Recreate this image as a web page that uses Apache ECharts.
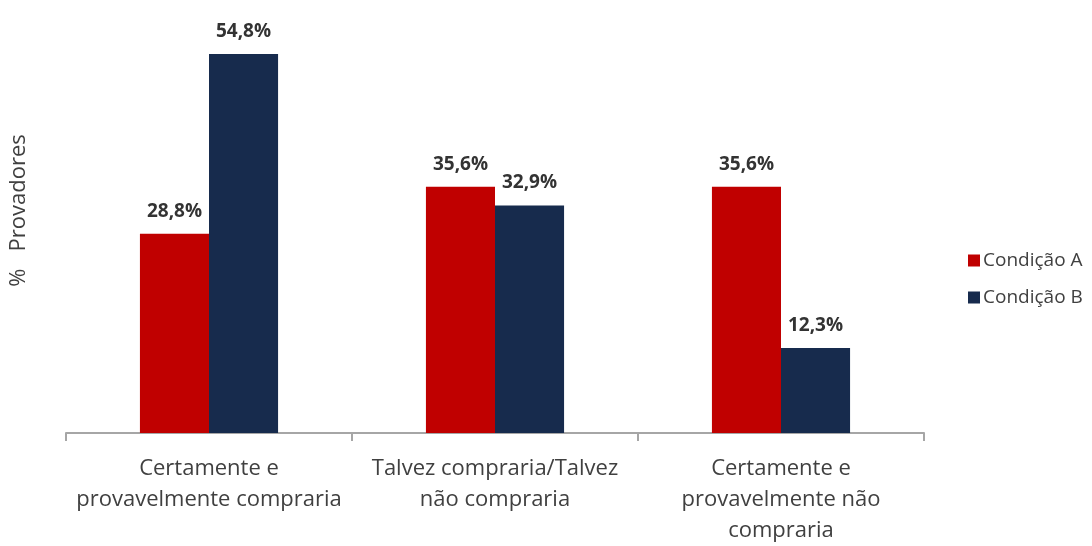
<!DOCTYPE html>
<html>
<head>
<meta charset="utf-8">
<script src="https://cdn.jsdelivr.net/npm/echarts@6/dist/echarts.min.js"></script>
<style>
  html, body { margin: 0; padding: 0; background: #ffffff; }
  #chart { width: 1092px; height: 546px; }
</style>
</head>
<body>
<div id="chart"></div>
<script>
// dados do gráfico
const categories = [
  'Certamente e\nprovavelmente compraria',
  'Talvez compraria/Talvez\nnão compraria',
  'Certamente e\nprovavelmente não\ncompraria'
];
const condicaoA = [28.8, 35.6, 35.6];
const condicaoB = [54.8, 32.9, 12.3];
const seriesNames = ['Condição A', 'Condição B'];

const fontFamily = '"Open Sans", "Liberation Sans", sans-serif';

function pct(p) {
  return p.value.toFixed(1).replace('.', ',') + '%';
}

const myChart = echarts.init(document.getElementById('chart'));
const option = {
  backgroundColor: '#ffffff',
  animation: false,
  textStyle: { fontFamily: fontFamily },
  grid: { left: 65, right: 168, top: 18, bottom: 112 },
  legend: {
    orient: 'vertical',
    left: 963,
    top: 246,
    itemWidth: 12,
    itemHeight: 12,
    itemGap: 18,
    itemStyle: { borderWidth: 0 },
    icon: 'rect',
    textStyle: { color: '#404040', fontSize: 19, fontFamily: fontFamily, padding: [0, 0, 0, -2] },
    data: seriesNames
  },
  xAxis: {
    type: 'category',
    data: categories,
    axisLine: { lineStyle: { color: '#a6a6a6', width: 2 } },
    axisTick: { show: true, length: 8, lineStyle: { color: '#a6a6a6', width: 2 } },
    axisLabel: {
      color: '#404040',
      fontSize: 22,
      lineHeight: 31,
      margin: 20,
      interval: 0
    }
  },
  yAxis: {
    type: 'value',
    min: 0,
    max: 60,
    name: '%   Provadores',
    nameLocation: 'middle',
    nameGap: 36,
    nameRotate: 90,
    nameTextStyle: { color: '#404040', fontSize: 22, fontFamily: fontFamily, padding: [0, 0, 0, 30] },
    axisLine: { show: false },
    axisTick: { show: false },
    axisLabel: { show: false },
    splitLine: { show: false }
  },
  series: [
    {
      name: seriesNames[0],
      type: 'bar',
      data: condicaoA,
      barGap: '0%',
      barCategoryGap: '51.7%',
      itemStyle: { color: '#c00000' },
      label: {
        show: true, position: 'top', distance: 13,
        formatter: pct, color: '#333333', fontSize: 19, fontWeight: 'bold'
      }
    },
    {
      name: seriesNames[1],
      type: 'bar',
      data: condicaoB,
      itemStyle: { color: '#172b4d' },
      label: {
        show: true, position: 'top', distance: 13,
        formatter: pct, color: '#333333', fontSize: 19, fontWeight: 'bold'
      }
    }
  ]
};
myChart.setOption(option);
</script>
</body>
</html>
